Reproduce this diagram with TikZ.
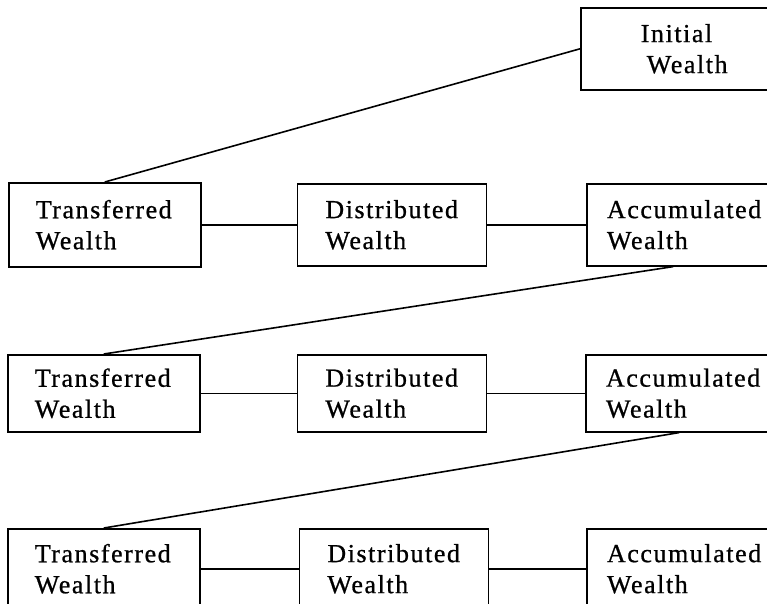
\documentclass[tikz,border=0pt]{standalone}
\usepackage{fontspec}
\setmainfont{Liberation Serif}[LetterSpace=6, FakeBold=0.8]
\usetikzlibrary{positioning,calc}
\hyphenpenalty=10000

\begin{document}
\begin{tikzpicture}[x=1pt, y=-1pt, line width=1.6pt,
    wbox/.style={draw, rectangle, align=left, inner ysep=0pt, minimum height=#1,
                 font=\fontsize{26}{31}\selectfont},
    ibox/.style={wbox=#1, inner xsep=60pt, text width=100pt},
    tbox/.style={wbox=#1, inner xsep=27pt, text width=138pt},
    dbox/.style={wbox=#1, inner xsep=28pt, text width=133pt},
    abox/.style={wbox=#1, inner xsep=20pt, text width=160pt}]
    \useasboundingbox (0,0) rectangle (767,603);
    \clip (0,0) rectangle (767,603);

    % Nodes {init, t1..t3, d1..d3, a1..a3}
    \node [ibox=82pt, anchor=north west]  (init) at (580,7)   {Initial\\\hspace*{6pt}Wealth};

    \node [tbox=84pt, anchor=north west]  (t1)   at (8,182)   {Transferred\\Wealth};
    \node [dbox=82pt, right=95pt of t1]   (d1)                {Distributed\\Wealth};
    \node [abox=82pt, right=99pt of d1]   (a1)                {Accumulated\\Wealth};

    \node [tbox=77pt, anchor=north west]  (t2)   at (7,354)   {Transferred\\Wealth};
    \node [dbox=77pt, right=96pt of t2]   (d2)                {Distributed\\Wealth};
    \node [abox=77pt, right=98pt of d2]   (a2)                {Accumulated\\Wealth};

    \node [tbox=80pt, anchor=north west]  (t3)   at (7,528)   {Transferred\\Wealth};
    \node [dbox=80pt, right=98pt of t3]   (d3)                {Distributed\\Wealth};
    \node [abox=80pt, right=97pt of d3]   (a3)                {Accumulated\\Wealth};

    % Paths
    \draw (init.west) -- (t1.north);
    \draw (t1.east) -- (d1.west);
    \draw (d1.east) -- (a1.west);
    \draw ($(a1.south west)+(87,0)$) -- (t2.north);
    \draw (t2.east) -- (d2.west);
    \draw (d2.east) -- (a2.west);
    \draw ($(a2.south west)+(94,0)$) -- (t3.north);
    \draw (t3.east) -- (d3.west);
    \draw (d3.east) -- (a3.west);

\end{tikzpicture}
\end{document}
